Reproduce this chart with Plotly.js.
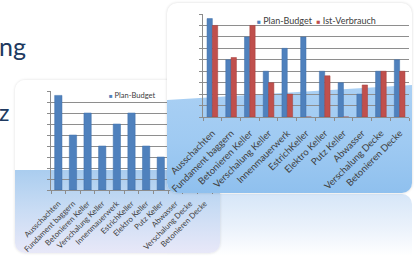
<!DOCTYPE html>
<html><head><meta charset="utf-8">
<script src="https://cdn.plot.ly/plotly-3.0.1.min.js"></script>
<style>
html,body{margin:0;padding:0;width:414px;height:256px;overflow:hidden;background:#fff;}
.slide{position:absolute;color:#203a60;font-family:Lato,'Open Sans',sans-serif;white-space:nowrap;line-height:24px;}
#t1{left:-1px;top:34px;font-size:25px;}
#t2{left:-1px;top:100px;font-size:23px;}
#refl{position:absolute;left:167px;top:194px;width:245px;height:62px;overflow:hidden;border-radius:0 10px 0 0;
  background:linear-gradient(to bottom,#d6e6f8 0%,#ebf2fb 55%,#ffffff 100%);}
#leftPanel{position:absolute;left:15px;top:80px;width:205px;height:173px;border-radius:10px;overflow:hidden;
  background:linear-gradient(to bottom,#ffffff 0px,#ffffff 90px,#aacdef 90px,#c9dcf4 130px,#e8e8f8 173px);
  box-shadow:0 0 3px rgba(0,0,0,0.14);}
#rightPanel{position:absolute;left:167px;top:3px;width:245px;height:190px;border-radius:10px;overflow:hidden;background:#fff;
  box-shadow:0 0 3px rgba(0,0,0,0.16);}
#rightBlue{position:absolute;left:0;top:0;width:245px;height:190px;
  clip-path:polygon(0 97px,245px 82px,245px 190px,0 190px);
  background:linear-gradient(to bottom,#ffffff 0px,#ffffff 80px,#aad0f4 82px,#9fcaf2 140px,#8fc0ee 190px);}
.chart{position:absolute;left:0;top:0;}
</style>
</head><body>
<div id="t1" class="slide">ng</div>
<div id="t2" class="slide">z</div>
<div id="refl"></div>
<div id="leftPanel"><div id="leftChart" class="chart"></div></div>
<div id="rightPanel"><div id="rightBlue"></div><div id="rightChart" class="chart"></div></div>
<script>
const categories = ['Ausschachten','Fundament baggern','Betonieren Keller','Verschalung Keller','Innenmauerwerk','EstrichKeller','Elektro Keller','Putz Keller','Abwasser','Verschalung Decke','Betonieren Decke'];
const planBudget = [8.6, 5, 7, 4, 6, 7, 4, 3, 2, 4, 5];
const istVerbrauch = [8, 5.2, 8, 3, 2, 0, 3.6, 0, 2.8, 4, 4];
const seriesNames = ['Plan-Budget', 'Ist-Verbrauch'];
const blue = '#4f81bd', red = '#c0504d';

function axes(fs, angle, standoff) {
  return {
    xaxis: {type:'category', tickangle:angle, tickson:'boundaries', ticks:'outside', ticklen:3, tickcolor:'#8c8c8c',
      ticklabelstandoff:standoff,
      showline:true, linecolor:'#8c8c8c', showgrid:false, automargin:false, fixedrange:true,
      tickfont:{family:'Lato', size:fs, color:'#404040'}},
    yaxis: {range:[0,9], dtick:1, tick0:0, showticklabels:false, ticks:'outside', ticklen:3, tickcolor:'#8c8c8c',
      showline:true, linecolor:'#8c8c8c', gridcolor:'#8e8e8e', gridwidth:1, zeroline:false, fixedrange:true, automargin:false}
  };
}
const cfg = {staticPlot:true, displayModeBar:false};

// Left chart: Plan-Budget only
Plotly.newPlot('leftChart', [
  {type:'bar', x:categories, y:planBudget, name:seriesNames[0], marker:{color:blue, line:{color:'#3f6fa8', width:0.5}}}
], Object.assign({
  width:205, height:173, margin:{l:36, r:8, t:11, b:63},
  paper_bgcolor:'rgba(0,0,0,0)', plot_bgcolor:'rgba(0,0,0,0)',
  bargap:0.5, showlegend:false,
  annotations:[{xref:'paper', yref:'paper', x:0.345, y:0.955, xanchor:'left', yanchor:'middle', showarrow:false,
    text:'<span style="color:'+blue+';font-size:6px">■</span> '+seriesNames[0],
    font:{family:'Lato', size:7.5, color:'#404040'}}]
}, axes(7.8, -45, 5)), cfg);

// Right chart: both series
Plotly.newPlot('rightChart', [
  {type:'bar', x:categories, y:planBudget, name:seriesNames[0], marker:{color:blue, line:{color:'#3f6fa8', width:0.5}}},
  {type:'bar', x:categories, y:istVerbrauch, name:seriesNames[1], marker:{color:red, line:{color:'#a43e3b', width:0.5}}}
], Object.assign({
  width:245, height:190, margin:{l:36, r:3, t:11, b:76},
  paper_bgcolor:'rgba(0,0,0,0)', plot_bgcolor:'rgba(0,0,0,0)',
  barmode:'group', bargap:0.43, bargroupgap:0, showlegend:false,
  annotations:[{xref:'paper', yref:'paper', x:0.25, y:0.935, xanchor:'left', yanchor:'middle', showarrow:false,
    text:'<span style="color:'+blue+';font-size:6.5px">■</span> '+seriesNames[0]+'  <span style="color:'+red+';font-size:6.5px">■</span> '+seriesNames[1],
    font:{family:'Lato', size:9, color:'#404040'}}]
}, axes(9.5, -45, 6)), cfg);
</script>
</body></html>
